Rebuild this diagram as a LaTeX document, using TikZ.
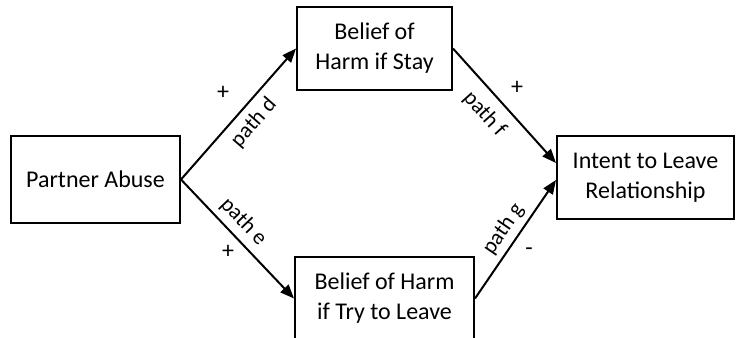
\documentclass[tikz,border=0pt]{standalone}
\usepackage{fontspec}
\setmainfont{Carlito}
\usetikzlibrary{arrows.meta}

\begin{document}
\begin{tikzpicture}[x=0.5pt,y=-0.5pt,
    box/.style={draw,line width=1pt,inner sep=0pt,align=center,
      minimum height=41.5pt,font=\fontsize{12}{15}\selectfont},
    link/.style={line width=1pt,-{Triangle[length=7pt,width=5.5pt]}},
    lbl/.style={font=\fontsize{11}{13}\selectfont,inner sep=0pt,sloped},
    sgn/.style={font=\fontsize{12}{14}\selectfont,inner sep=0pt}]
  \useasboundingbox (0,0) rectangle (736,338);
  % boxes
  \node[box,minimum width=84.5pt,minimum height=43.5pt] (abuse) at (95.5,179.5) {Partner Abuse};
  \node[box,minimum width=77.5pt] (stay) at (374.5,48.5) {Belief of\\Harm if Stay};
  \node[box,minimum width=89.5pt] (leave) at (384.5,298.5) {Belief of Harm\\if Try to Leave};
  \node[box,minimum width=88.5pt] (intent) at (645.5,177.5) {Intent to Leave\\Relationship};
  % paths
  \draw[link] (abuse.east) -- (stay.west)
    node[lbl,pos=.52,below=3.5pt] (pd) {path d};
  \draw[link] (abuse.east) -- (leave.west)
    node[lbl,pos=.45,above=2.8pt] (pe) {path e};
  \draw[link] (stay.east) -- ([yshift=7.25pt]intent.west)
    node[lbl,pos=.454,below=5pt] (pf) {path f};
  \draw[link] (leave.east) -- ([yshift=-1.25pt]intent.west)
    node[lbl,pos=.51,above=2.5pt] (pg) {path g};
  % signs
  \node[sgn] (sd) at (223,93) {+};
  \node[sgn] (se) at (228,252) {+};
  \node[sgn] (sf) at (517,88) {+};
  \node[sgn] (sg) at (529,252) {-};
\end{tikzpicture}
\end{document}
